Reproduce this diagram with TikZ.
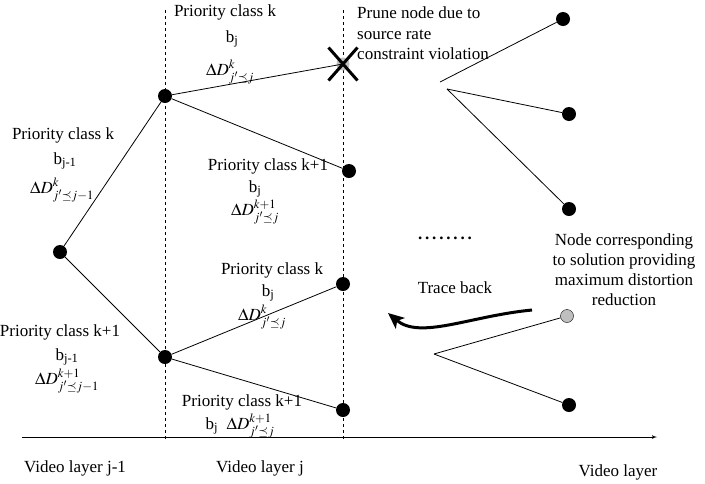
\documentclass[tikz,border=0pt]{standalone}
\usepackage{amssymb}
\usepackage{mathptmx}
\usepackage{fontspec}
\setmainfont{Liberation Serif}
\usetikzlibrary{arrows,arrows.meta,shapes.misc}

\newcommand{\dd}[2]{$\Delta D^{#1}_{#2}$}

\begin{document}
\begin{tikzpicture}[x=1pt,y=-1pt,font=\fontsize{17}{20}\selectfont]

	\tikzset{vertex/.style = {shape=circle,fill=black,inner sep=0pt,minimum size=14pt}}
	\tikzset{greyvertex/.style = {shape=circle,draw,fill=gray!50,inner sep=0pt,minimum size=13pt}}
	\tikzset{edge/.style = {line width=0.8pt}}
	\tikzset{layer/.style = {dashed,dash pattern=on 3pt off 3pt,line width=0.6pt}}
	\tikzset{txt/.style = {inner sep=0pt,align=center}}
	\useasboundingbox (0,0) rectangle (705,483);
	% layer lines and axis
	\coordinate (l1t) at (165,10);
	\coordinate (l1b) at (165,440);
	\coordinate (l2t) at (343,10);
	\coordinate (l2b) at (343,440);
	\coordinate (ax1) at (22,437);
	\coordinate (ax2) at (657,437);
	\draw[layer] (l1t) -- (l1b);
	\draw[layer] (l2t) -- (l2b);
	\draw[line width=0.8pt,-{latex'[length=9pt,width=8pt]}] (ax1) -- (ax2);
	% vertices
	\node[vertex] (a) at (60,252) {};
	\node[vertex] (b) at (165,96) {};
	\node[vertex] (c) at (165,357) {};
	\node[greyvertex,draw=none] (p) at (343,64) {};
	\node[vertex] (d) at (349,171) {};
	\node[vertex] (e) at (343,284) {};
	\node[vertex] (f) at (343,410) {};
	\node[vertex] (r1) at (563,19) {};
	\node[vertex] (r2) at (569,114) {};
	\node[vertex] (r3) at (569,209) {};
	\node[greyvertex] (g) at (567,316) {};
	\node[vertex] (r4) at (569,405) {};
	\coordinate (s1) at (440,82);
	\coordinate (s2) at (447,89);
	\coordinate (s3) at (434,354);
	%edges
	\draw[edge] (a) -- (b);
	\draw[edge] (a) -- (c);
	\draw[edge] (b) -- (p.center);
	\draw[edge] (b) -- (d);
	\draw[edge] (c) -- (e);
	\draw[edge] (c) -- (f);
	\draw[edge] (s1) -- (r1);
	\draw[edge] (s2) -- (r2);
	\draw[edge] (s2) -- (r3);
	\draw[edge] (s3) -- (g);
	\draw[edge] (s3) -- (r4);
	% pruned node
	\node[cross out,draw,line width=3pt,minimum width=26pt,minimum height=30pt] (px) at (p) {};
	% trace back
	\coordinate (t1) at (532,310);
	\coordinate (t2) at (388,313);
	\draw[line width=3pt,-{Stealth[length=16pt,width=14pt,inset=4pt]}] (t1) .. controls (470,316) and (420,340) .. (t2);
	% labels
	\node[txt] (pk1) at (63,135) {Priority class k};
	\node[txt] (bj1) at (65,161) {b\textsubscript{j-1}};
	\node[txt] (dk1) at (62,190) {\dd{k}{j'\preceq j-1}};
	\node[txt] (pk2) at (225,12) {Priority class k};
	\node[txt] (bj2) at (232,39) {b\textsubscript{j}};
	\node[txt] (dk2) at (230,72) {\dd{k}{j'\preceq j}};
	\node[txt] (pk3) at (268,166) {Priority class k+1};
	\node[txt] (bj3) at (255,189) {b\textsubscript{j}};
	\node[txt] (dk3) at (255,212) {\dd{k+1}{j'\preceq j}};
	\node[txt] (pk4) at (272,270) {Priority class k};
	\node[txt] (bj4) at (268,293) {b\textsubscript{j}};
	\node[txt] (dk4) at (262,317) {\dd{k}{j'\preceq j}};
	\node[txt] (pk5) at (60,332) {Priority class k+1};
	\node[txt] (bj5) at (67,357) {b\textsubscript{j-1}};
	\node[txt] (dk5) at (67,381) {\dd{k+1}{j'\preceq j-1}};
	\node[txt] (pk6) at (242,402) {Priority class k+1};
	\node[txt] (bj6) at (240,426) {b\textsubscript{j}\ \ \dd{k+1}{j'\preceq j}};
	\node[txt,anchor=north west,align=left] (prune) at (357,7) {Prune node due to\\source rate\\constraint violation};
	\node[txt] (dots) at (445,238) {\textbf{.\,.\,.\,.\,.\,.\,.\,.}};
	\node[txt] (best) at (624,270) {Node corresponding\\to solution providing\\maximum distortion\\reduction};
	\node[txt] (trace) at (455,288) {Trace back};
	\node[txt] (vl1) at (75,468) {Video layer j-1};
	\node[txt] (vl2) at (260,468) {Video layer j};
	\node[txt] (vl3) at (618,472) {Video layer};
\end{tikzpicture}
\end{document}
